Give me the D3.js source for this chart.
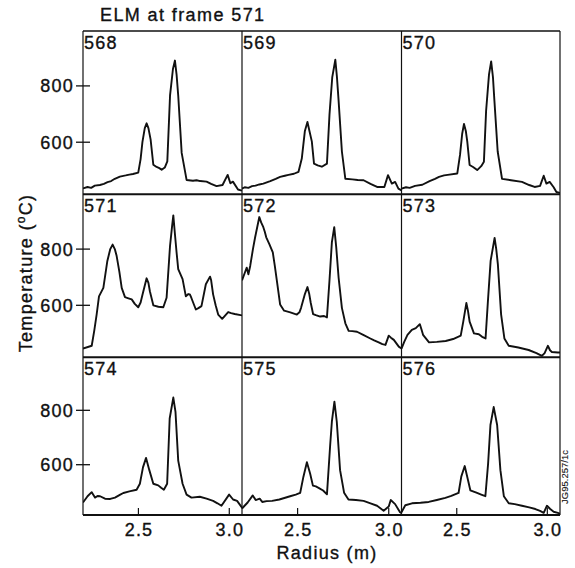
<!DOCTYPE html>
<html>
<head>
<meta charset="utf-8">
<script src="https://cdn.jsdelivr.net/npm/d3@7"></script>
<style>
  body { margin: 0; background: #fff; }
  svg text { font-family: "Liberation Sans", Arial, sans-serif; fill: #111; stroke: #111; stroke-width: 0.35px; }
</style>
</head>
<body>
<svg id="chart" width="575" height="568"></svg>
<script>
// frame numbers, one per panel (row by row)
var frames = [568, 569, 570, 571, 572, 573, 574, 575, 576];
var radiusTicks = [2.5, 3.0];
var tempTicks = [600, 800];

// temperature profiles [radius (m), temperature (C)]
var p568 = [[2.195,436],[2.22,441],[2.24,438],[2.26,446],[2.288,448],[2.31,452],[2.33,458],[2.35,462],[2.37,470],[2.398,478],[2.43,482],[2.45,485],[2.47,487],[2.499,492],[2.512,540],[2.522,600],[2.535,650],[2.545,667],[2.555,650],[2.567,610],[2.582,520],[2.60,512],[2.615,508],[2.628,502],[2.645,510],[2.659,532],[2.674,766],[2.69,860],[2.701,890],[2.71,840],[2.719,766],[2.738,562],[2.765,466],[2.80,463],[2.82,465],[2.84,462],[2.875,460],[2.90,452],[2.93,444],[2.963,448],[2.991,484],[3.006,454],[3.02,460],[3.048,432],[3.07,428]];
var p569 = [[2.195,435],[2.21,440],[2.23,438],[2.25,444],[2.27,446],[2.29,450],[2.312,453],[2.35,462],[2.38,470],[2.404,477],[2.43,481],[2.45,484],[2.48,488],[2.505,495],[2.523,542],[2.54,640],[2.554,672],[2.565,640],[2.578,603],[2.59,524],[2.61,518],[2.633,513],[2.661,524],[2.675,699],[2.69,830],[2.707,893],[2.716,830],[2.725,747],[2.743,567],[2.762,470],[2.80,468],[2.83,466],[2.862,465],[2.90,452],[2.936,441],[2.976,441],[2.996,483],[3.017,453],[3.035,459],[3.053,435],[3.07,429]];
var p570 = [[2.195,435],[2.22,440],[2.24,438],[2.27,445],[2.31,449],[2.35,462],[2.38,470],[2.402,477],[2.43,482],[2.45,484],[2.503,489],[2.518,555],[2.53,630],[2.54,665],[2.55,640],[2.558,603],[2.571,519],[2.59,512],[2.613,501],[2.635,515],[2.65,531],[2.662,711],[2.678,840],[2.69,887],[2.70,830],[2.708,747],[2.726,567],[2.75,470],[2.80,465],[2.86,459],[2.90,448],[2.93,441],[2.96,445],[2.98,481],[2.995,453],[3.013,459],[3.035,440],[3.05,423],[3.07,420]];
var p571 = [[2.195,446],[2.243,456],[2.257,510],[2.27,567],[2.283,632],[2.307,662],[2.329,758],[2.345,800],[2.358,816],[2.37,800],[2.38,776],[2.395,720],[2.408,662],[2.426,629],[2.445,625],[2.463,621],[2.48,605],[2.499,593],[2.512,610],[2.523,639],[2.545,696],[2.555,680],[2.563,650],[2.582,600],[2.61,595],[2.637,593],[2.655,627],[2.674,812],[2.685,880],[2.692,920],[2.70,860],[2.71,788],[2.719,729],[2.743,693],[2.761,632],[2.775,640],[2.783,639],[2.791,627],[2.816,585],[2.83,590],[2.847,597],[2.871,675],[2.894,702],[2.90,690],[2.911,639],[2.925,600],[2.939,567],[2.961,552],[2.994,576],[3.01,572],[3.03,569],[3.07,564]];
var p572 = [[2.195,689],[2.21,715],[2.221,734],[2.23,710],[2.24,740],[2.255,800],[2.267,842],[2.29,914],[2.30,895],[2.312,878],[2.32,862],[2.328,842],[2.345,818],[2.364,788],[2.375,740],[2.386,689],[2.404,603],[2.426,581],[2.46,575],[2.496,567],[2.51,575],[2.519,591],[2.54,640],[2.554,665],[2.564,640],[2.572,609],[2.585,569],[2.60,565],[2.624,560],[2.645,562],[2.661,557],[2.675,689],[2.688,824],[2.701,878],[2.712,806],[2.725,698],[2.743,591],[2.762,536],[2.78,509],[2.80,508],[2.826,506],[2.86,495],[2.899,482],[2.92,475],[2.945,468],[2.965,462],[2.982,459],[3.0,492],[3.012,485],[3.028,477],[3.055,453],[3.07,446]];
var p573 = [[2.195,446],[2.21,470],[2.228,495],[2.252,513],[2.274,519],[2.296,533],[2.305,515],[2.314,495],[2.347,468],[2.39,470],[2.439,473],[2.48,480],[2.522,492],[2.536,542],[2.553,608],[2.562,580],[2.571,542],[2.595,500],[2.622,497],[2.64,488],[2.659,482],[2.672,614],[2.687,758],[2.709,840],[2.718,800],[2.727,746],[2.745,567],[2.763,482],[2.787,456],[2.84,450],[2.897,441],[2.94,430],[2.97,420],[2.985,430],[3.003,456],[3.015,440],[3.025,434],[3.058,432],[3.07,432]];
var p574 = [[2.195,461],[2.22,484],[2.243,499],[2.261,479],[2.275,485],[2.289,484],[2.316,475],[2.345,474],[2.371,479],[2.40,490],[2.417,496],[2.45,502],[2.49,508],[2.508,530],[2.525,590],[2.542,625],[2.56,580],[2.582,530],[2.609,524],[2.625,515],[2.64,508],[2.658,530],[2.672,770],[2.692,847],[2.704,794],[2.719,615],[2.743,530],[2.765,490],[2.792,479],[2.838,482],[2.875,475],[2.911,467],[2.935,458],[2.957,449],[2.999,490],[3.021,472],[3.043,467],[3.072,440]];
var p575 = [[2.195,439],[2.226,461],[2.254,487],[2.27,470],[2.292,475],[2.306,463],[2.33,466],[2.36,467],[2.40,472],[2.459,484],[2.49,490],[2.514,496],[2.532,556],[2.551,609],[2.569,567],[2.584,523],[2.60,520],[2.615,515],[2.64,505],[2.661,491],[2.679,675],[2.688,758],[2.702,832],[2.715,758],[2.733,580],[2.755,497],[2.779,472],[2.82,470],[2.862,467],[2.90,458],[2.936,449],[2.972,431],[3.0,446],[3.011,470],[3.035,455],[3.062,425],[3.07,422]];
var p576 = [[2.195,425],[2.216,451],[2.253,458],[2.30,460],[2.345,463],[2.39,470],[2.437,478],[2.47,485],[2.51,496],[2.525,556],[2.544,595],[2.562,544],[2.575,506],[2.612,496],[2.635,490],[2.658,484],[2.673,603],[2.686,746],[2.704,812],[2.723,746],[2.741,580],[2.76,484],[2.787,458],[2.82,455],[2.86,449],[2.90,443],[2.934,437],[2.96,430],[2.98,423],[2.998,449],[3.016,437],[3.035,427],[3.058,423],[3.07,420]];

var profiles = [p568, p569, p570, p571, p572, p573, p574, p575, p576];

var svg = d3.select("#chart");

// grid layout of the 3x3 panels
var colEdges = [83, 242, 401.5, 560];
var rowEdges = [31, 194.3, 357.3, 515];

var x = d3.scaleLinear().domain([2.195, 3.07]);
var yDomain = [415, 995];

var line = d3.line()
  .x(function(d) { return x(d[0]); });

frames.forEach(function(f, i) {
  var c = i % 3, r = Math.floor(i / 3);
  var w = colEdges[c + 1] - colEdges[c],
      h = rowEdges[r + 1] - rowEdges[r];
  x.range([0, w]);
  var y = d3.scaleLinear().domain(yDomain).range([h, 0]);

  var g = svg.append("g")
    .attr("transform", "translate(" + colEdges[c] + "," + rowEdges[r] + ")");

  svg.append("clipPath").attr("id", "clip" + i)
    .append("rect").attr("width", w).attr("height", h);

  g.append("path")
    .datum(profiles[i])
    .attr("clip-path", "url(#clip" + i + ")")
    .attr("fill", "none")
    .attr("stroke", "#111")
    .attr("stroke-width", 1.9)
    .attr("stroke-linejoin", "round")
    .attr("d", line.y(function(d) { return y(d[1]); }));

  g.append("text")
    .attr("x", 1)
    .attr("y", 17.5)
    .attr("font-size", 18)
    .attr("letter-spacing", 1.2)
    .text(f);

  // temperature ticks on the left column
  if (c === 0) {
    tempTicks.forEach(function(t) {
      g.append("line")
        .attr("x1", -7).attr("x2", 7)
        .attr("y1", y(t)).attr("y2", y(t))
        .attr("stroke", "#111").attr("stroke-width", 1.3);
      g.append("text")
        .attr("x", -9)
        .attr("y", y(t))
        .attr("dy", "0.36em")
        .attr("text-anchor", "end")
        .attr("font-size", 18)
        .attr("letter-spacing", 1.2)
        .text(t);
    });
  }

  // radius ticks on the bottom row
  if (r === 2) {
    radiusTicks.forEach(function(t) {
      g.append("line")
        .attr("x1", x(t)).attr("x2", x(t))
        .attr("y1", h).attr("y2", h - 7)
        .attr("stroke", "#111").attr("stroke-width", 1.2);
      g.append("text")
        .attr("x", x(t) + 0.6)
        .attr("y", h + 21)
        .attr("text-anchor", "middle")
        .attr("font-size", 18)
        .attr("letter-spacing", 1.2)
        .text(d3.format(".1f")(t));
    });
  }
});

// panel borders
colEdges.forEach(function(cx) {
  svg.append("line")
    .attr("x1", cx).attr("x2", cx)
    .attr("y1", rowEdges[0]).attr("y2", rowEdges[3])
    .attr("stroke", "#111").attr("stroke-width", 1.2);
});
rowEdges.forEach(function(ry, k) {
  svg.append("line")
    .attr("x1", colEdges[0]).attr("x2", colEdges[3])
    .attr("y1", ry).attr("y2", ry)
    .attr("stroke", "#111").attr("stroke-width", k === 0 ? 1.4 : 2);
});

// titles
svg.append("text")
  .attr("x", 100).attr("y", 20.5)
  .attr("font-size", 18)
  .attr("letter-spacing", 1.4)
  .text("ELM at frame 571");

svg.append("text")
  .attr("x", 327).attr("y", 559)
  .attr("text-anchor", "middle")
  .attr("font-size", 18)
  .attr("letter-spacing", 1.3)
  .text("Radius (m)");

var ylab = svg.append("text")
  .attr("transform", "translate(32,273) rotate(-90)")
  .attr("text-anchor", "middle")
  .attr("font-size", 18)
  .attr("letter-spacing", 1.3);
ylab.append("tspan").text("Temperature (");
ylab.append("tspan").attr("font-size", 12).attr("dy", -7).text("o");
ylab.append("tspan").attr("dy", 7).text("C)");

svg.append("text")
  .attr("transform", "translate(568,477) rotate(-90)")
  .attr("text-anchor", "middle")
  .attr("font-size", 9.5)
  .style("stroke-width", "0.1px")
  .text("JG95.257/1c");
</script>
</body>
</html>
